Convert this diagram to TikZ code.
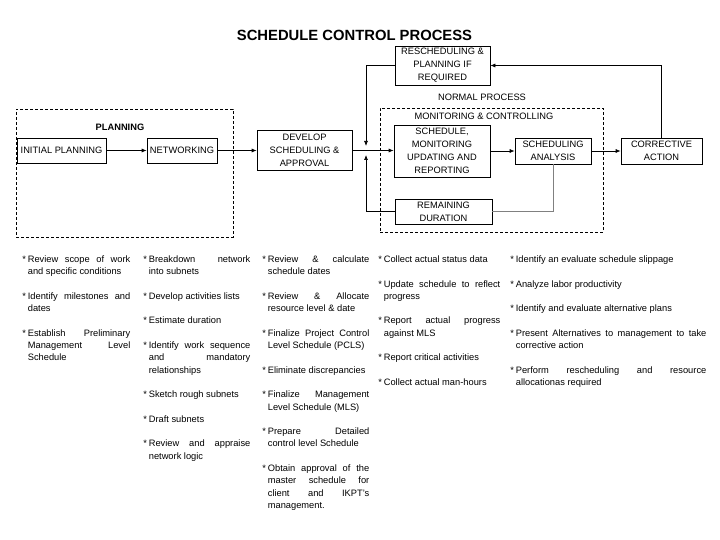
\documentclass[tikz,border=0pt]{standalone}
\usepackage{fontspec}
\setmainfont{Liberation Sans}
\usetikzlibrary{arrows.meta}
\newcommand{\bitem}{\par\hangindent=5.5pt\hangafter=1\noindent\makebox[5.5pt][l]{*}}
\begin{document}
\begin{tikzpicture}[x=1pt, y=-1pt, >={Latex[length=5pt, width=4pt]}, line width=0.7pt,
    font=\fontsize{9.3}{13}\selectfont,
    blk/.style={draw, align=center, inner sep=1pt},
    grp/.style={draw, dash pattern=on 3pt off 2pt, line width=0.9pt, inner sep=0pt},
    col/.style={anchor=north west, inner sep=0pt, align=justify, font=\fontsize{9.3}{12.3}\selectfont,
      execute at begin node={\setlength{\parskip}{12.3pt}\hyphenpenalty=10000\relax}}]
  \useasboundingbox (0,0) rectangle (720,540);
  \node[font=\fontsize{14.8}{16}\selectfont\bfseries] (title) at (354.5,35) {SCHEDULE CONTROL PROCESS};
  \node[grp, minimum width=217pt, minimum height=128pt] (plan) at (124.5,173) {};
  \node[grp, minimum width=223pt, minimum height=124pt] (mon) at (491.5,170) {};
  \node[font=\fontsize{9.3}{13}\selectfont\bfseries] (planlbl) at (120,127) {PLANNING};
  \node (monlbl) at (484,116) {MONITORING \& CONTROLLING};
  \node (normlbl) at (482,97) {NORMAL PROCESS};
  \node[blk, minimum width=89pt, minimum height=25pt] (init) at (61.5,150.5) {INITIAL PLANNING};
  \node[blk, minimum width=70pt, minimum height=25pt] (netw) at (182,150.5) {NETWORKING};
  \node[blk, minimum width=95pt, minimum height=40pt] (devel) at (304.5,150.5) {DEVELOP\\SCHEDULING \&\\APPROVAL};
  \node[blk, minimum width=95pt, minimum height=39pt] (resch) at (442.5,65.5) {RESCHEDULING \&\\PLANNING IF\\REQUIRED};
  \node[blk, minimum width=96pt, minimum height=52pt] (smon) at (442,151) {SCHEDULE,\\MONITORING\\UPDATING AND\\REPORTING};
  \node[blk, minimum width=76pt, minimum height=26pt] (sana) at (553,151) {SCHEDULING\\ANALYSIS};
  \node[blk, minimum width=81pt, minimum height=26pt] (corr) at (661.5,151) {CORRECTIVE\\ACTION};
  \node[blk, minimum width=97pt, minimum height=25pt] (remd) at (443.5,211.5) {REMAINING\\DURATION};
  \coordinate (jtop) at (366,146);
  \coordinate (jbot) at (366,155);
  \draw[->] (init.east) -- (init.east -| netw.west);
  \draw[->] (netw.east) -- (netw.east -| devel.west);
  \draw[->] (devel.east) -- (devel.east -| smon.west);
  \draw[->] (smon.east) -- (smon.east -| sana.west);
  \draw[->] (sana) -- (corr);
  \draw[->] (corr.north) |- (resch.east);
  \draw[->] (resch.west) -| (jtop);
  \draw[->] (remd.west) -| (jbot);
  \draw[gray] (sana.south) |- (remd.east);
  \node[col, text width=108pt] (list1) at (22,237.5) {\bitem Review scope of work\linebreak and specific conditions
    \bitem Identify milestones and\linebreak dates
    \bitem Establish Preliminary\linebreak Management Level\linebreak Schedule\par};
  \node[col, text width=107pt] (list2) at (143,237.5) {\bitem Breakdown network\linebreak into subnets
    \bitem Develop activities lists
    \bitem Estimate duration
    \bitem Identify work sequence\linebreak and mandatory\linebreak relationships
    \bitem Sketch rough subnets
    \bitem Draft subnets
    \bitem Review and appraise\linebreak network logic\par};
  \node[col, text width=107pt] (list3) at (262,237.5) {\bitem Review \& calculate\linebreak schedule dates
    \bitem Review \& Allocate\linebreak resource level \& date
    \bitem Finalize Project Control\linebreak Level Schedule (PCLS)
    \bitem Eliminate discrepancies
    \bitem Finalize Management\linebreak Level Schedule (MLS)
    \bitem Prepare Detailed\linebreak control level Schedule
    \bitem Obtain approval of the\linebreak master schedule for\linebreak client and IKPT's\linebreak management.\par};
  \node[col, text width=122pt] (list4) at (378,237.5) {\bitem Collect actual status data
    \bitem Update schedule to reflect\linebreak progress
    \bitem Report actual progress\linebreak against MLS
    \bitem Report critical activities
    \bitem Collect actual man-hours\par};
  \node[col, text width=196pt] (list5) at (510,237.5) {\bitem Identify an evaluate schedule slippage
    \bitem Analyze labor productivity
    \bitem Identify and evaluate alternative plans
    \bitem Present Alternatives to management to take\linebreak corrective action
    \bitem Perform rescheduling and resource\linebreak allocationas required\par};
\end{tikzpicture}
\end{document}
